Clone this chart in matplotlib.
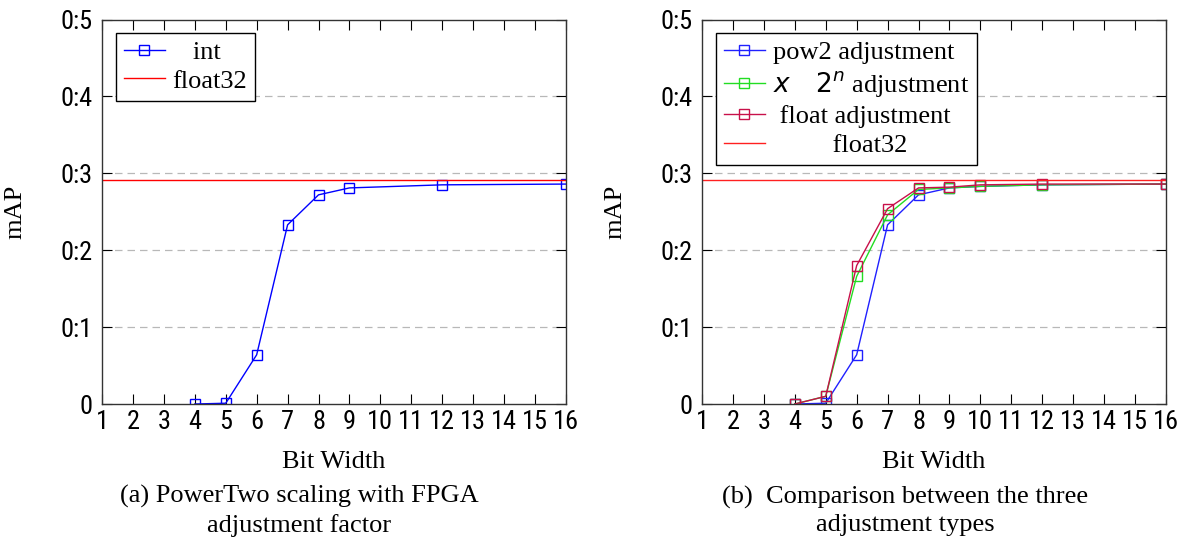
import matplotlib
matplotlib.use("Agg")
import matplotlib.pyplot as plt

# data
bits_int = [4, 5, 6, 7, 8, 9, 12, 16]
map_int = [0.0, 0.001, 0.064, 0.233, 0.272, 0.281, 0.285, 0.286]

bits_cmp = [4, 5, 6, 7, 8, 9, 10, 12, 16]
map_pow2 = [0.0, 0.001, 0.064, 0.233, 0.272, 0.281, 0.283, 0.285, 0.286]
map_x2n = [0.0, 0.010, 0.166, 0.246, 0.279, 0.281, 0.283, 0.285, 0.286]
map_float = [0.0, 0.010, 0.180, 0.254, 0.281, 0.282, 0.285, 0.286, 0.286]

float32_map = 0.291

x_ticks = list(range(1, 17))
y_ticks = [0, 0.1, 0.2, 0.3, 0.4, 0.5]
y_ticklabels = ["0", "0:1", "0:2", "0:3", "0:4", "0:5"]

tick_font = ["Roboto Condensed", "Liberation Sans Narrow", "Roboto", "DejaVu Sans"]
serif = "Liberation Serif"
fs = 19

W, H = 1188, 543
fig = plt.figure(figsize=(W / 100, H / 100), dpi=100)


def style_axes(ax):
    ax.set_xlim(1, 16)
    ax.set_ylim(0, 0.5)
    ax.set_xticks(x_ticks)
    ax.set_yticks(y_ticks)
    ax.set_xticklabels([str(t) for t in x_ticks], family=tick_font, fontsize=fs)
    ax.set_yticklabels(y_ticklabels, family=tick_font, fontsize=fs)
    ax.tick_params(direction="in", length=7, width=0.8, top=True, right=True)
    ax.tick_params(axis="x", pad=4)
    ax.tick_params(axis="y", pad=7)
    for y in y_ticks[1:-1]:
        ax.axhline(y, color="#b8b8b8", lw=0.9, ls=(0, (6, 4)), zorder=0)
    for s in ax.spines.values():
        s.set_linewidth(1.0)
        s.set_color("#333333")
    ax.set_xlabel("Bit Width", family=serif, fontsize=fs)
    ax.set_ylabel("mAP", family=serif, fontsize=fs)
    ax.xaxis.set_label_coords(0.5, -0.122)
    ax.yaxis.set_label_coords(-0.162, 0.5)


def px_axes(x0, x1, y0, y1):
    return fig.add_axes([x0 / W, 1 - y1 / H, (x1 - x0) / W, (y1 - y0) / H])


mk = dict(marker="s", markersize=7, markerfacecolor="none", markeredgewidth=1.0, lw=1.0)
leg_kw = dict(loc="upper left", bbox_to_anchor=(0.030, 0.966), borderaxespad=0,
              fancybox=False, edgecolor="black", framealpha=1,
              prop={"family": serif, "size": fs}, handlelength=1.55,
              handletextpad=0.3, labelspacing=0.2, borderpad=0.3)

# (a)
ax1 = px_axes(102, 566, 19.5, 404)
style_axes(ax1)
ax1.plot(bits_int, map_int, color="#0000ff", label="   int", **mk)
ax1.axhline(float32_map, color="#ff0000", lw=1.0, label="float32")
leg1 = ax1.legend(**leg_kw)
leg1.get_frame().set_linewidth(1.0)

# (b)
ax2 = px_axes(702, 1166, 19.5, 404)
style_axes(ax2)
ax2.plot(bits_cmp, map_pow2, color="#2020ff", label="pow2 adjustment", **mk)
ax2.plot(bits_cmp, map_x2n, color="#22dd22", label=r"$x$    $2^n$ adjustment", **mk)
ax2.plot(bits_cmp, map_float, color="#c8104a", label=" float adjustment", **mk)
ax2.axhline(float32_map, color="#ff2020", lw=1.0, label="         float32")
leg2 = ax2.legend(**leg_kw)
leg2.get_frame().set_linewidth(1.0)

fig.text(299 / W, 1 - 511 / H, "(a) PowerTwo scaling with FPGA\nadjustment factor",
         ha="center", va="center", family=serif, fontsize=fs, linespacing=1.3)
fig.text(905 / W, 1 - 511 / H, "(b)  Comparison between the three\nadjustment types",
         ha="center", va="center", family=serif, fontsize=fs, linespacing=1.3)

fig.savefig("out.png", dpi=100)
